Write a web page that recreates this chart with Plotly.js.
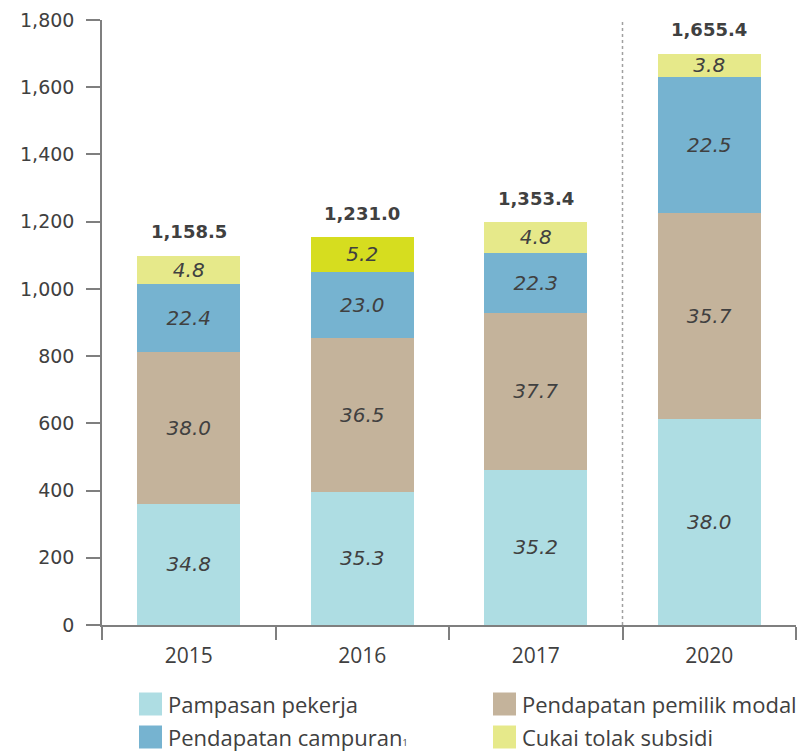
<!DOCTYPE html>
<html>
<head>
<meta charset="utf-8">
<script src="https://cdn.plot.ly/plotly-3.0.1.min.js"></script>
<style>
  body { margin: 0; background: #fff; }
  #chart { width: 806px; height: 751px; }
</style>
</head>
<body>
<div id="chart"></div>
<script>
// years on the x axis
var years = ['2015', '2016', '2017', '2020'];

// stacked segment heights as drawn
var pampasan = [361, 396, 462, 614];
var pemilikModal = [450, 459, 467, 611];
var campuran = [203, 196, 178, 405];
var cukai = [84, 103, 92, 70];

// share labels printed inside the segments (%)
var pampasanPct = ['34.8', '35.3', '35.2', '38.0'];
var pemilikModalPct = ['38.0', '36.5', '37.7', '35.7'];
var campuranPct = ['22.4', '23.0', '22.3', '22.5'];
var cukaiPct = ['4.8', '5.2', '4.8', '3.8'];

// totals above the bars
var totals = ['1,158.5', '1,231.0', '1,353.4', '1,655.4'];

var seriesNames = ['Pampasan pekerja', 'Pendapatan pemilik modal',
  'Pendapatan campuran<span style="font-size:9px">1</span>', 'Cukai tolak subsidi'];
var seriesColors = ['#aedde3', '#c4b39b', '#76b3d0', '#e6e98a'];
var cukaiColors = ['#e6e98a', '#d6dd1f', '#e6e98a', '#e6e98a'];

var W = 806, H = 751;
var margin = { l: 102, r: 10, t: 20, b: 126 };
var plotW = W - margin.l - margin.r;
var plotH = H - margin.t - margin.b;
var pxX = function(px) { return (px - margin.l) / plotW };
var pxY = function(py) { return (H - margin.b - py) / plotH };

var textFont = { family: 'DejaVu Sans', size: 20, color: '#404040', style: 'italic' };

function barTrace(values, labels, name, color) {
  return {
    x: years,
    y: values,
    type: 'bar',
    name: name,
    text: labels,
    textposition: 'inside',
    insidetextanchor: 'middle',
    textangle: 0,
    constraintext: 'none',
    textfont: textFont,
    marker: { color: color, line: { width: 0 } },
    hoverinfo: 'x+y+name',
    showlegend: false
  };
}

var data = [
  barTrace(pampasan, pampasanPct, seriesNames[0], seriesColors[0]),
  barTrace(pemilikModal, pemilikModalPct, seriesNames[1], seriesColors[1]),
  barTrace(campuran, campuranPct, seriesNames[2], seriesColors[2]),
  barTrace(cukai, cukaiPct, seriesNames[3], cukaiColors)
];

var stackTops = years.map((y, i) => pampasan[i] + pemilikModal[i] + campuran[i] + cukai[i]);

// category axis: annotations take the category index
var annotations = years.map((y, i) => ({
  x: i,
  y: stackTops[i],
  xref: 'x',
  yref: 'y',
  text: totals[i],
  showarrow: false,
  yanchor: 'middle',
  yshift: 24,
  font: { family: 'DejaVu Sans', size: 18, color: '#404040', weight: 700 }
}));

var shapes = [
  {
    type: 'line',
    xref: 'x', yref: 'paper',
    x0: 2.5, x1: 2.5, y0: 0, y1: 1,
    line: { color: '#a0a0a0', width: 1.5, dash: 'dot' }
  }
];

// legend drawn by hand, two columns, big square swatches
var legendCols = [139, 493];
var legendRows = [704, 737];
var sw = 23;
seriesNames.forEach((name, i) => {
  var cx = legendCols[i % 2];
  var cy = legendRows[Math.floor(i / 2)];
  shapes.push({
    type: 'rect',
    xref: 'paper', yref: 'paper',
    x0: pxX(cx), x1: pxX(cx + sw),
    y0: pxY(cy + sw / 2), y1: pxY(cy - sw / 2),
    fillcolor: seriesColors[i],
    line: { width: 0 }
  });
  annotations.push({
    xref: 'paper', yref: 'paper',
    x: pxX(cx + sw + 4),
    y: pxY(cy),
    xanchor: 'left',
    yanchor: 'middle',
    text: name,
    showarrow: false,
    font: { family: 'Open Sans', size: 22, color: '#404040' }
  });
});

var axisColor = '#7f7f7f';

var layout = {
  width: W,
  height: H,
  margin: margin,
  paper_bgcolor: '#ffffff',
  plot_bgcolor: '#ffffff',
  barmode: 'stack',
  bargap: 0.405,
  showlegend: false,
  xaxis: {
    type: 'category',
    range: [-0.5, 3.5],
    tickson: 'boundaries',
    ticks: 'outside',
    ticklen: 13,
    tickwidth: 1.5,
    tickcolor: axisColor,
    showline: true,
    linecolor: axisColor,
    linewidth: 1.5,
    showgrid: false,
    ticklabelstandoff: 11,
    tickfont: { family: 'Open Sans', size: 21, color: '#404040' }
  },
  yaxis: {
    range: [0, 1800],
    tickvals: [0, 200, 400, 600, 800, 1000, 1200, 1400, 1600, 1800],
    tickformat: ',',
    ticks: 'outside',
    ticklen: 14,
    tickwidth: 1.5,
    tickcolor: axisColor,
    showline: true,
    linecolor: axisColor,
    linewidth: 1.5,
    showgrid: false,
    zeroline: false,
    ticklabelstandoff: 8,
    tickfont: { family: 'DejaVu Sans', size: 19, color: '#404040' }
  },
  annotations: annotations,
  shapes: shapes
};

Plotly.newPlot('chart', data, layout, { displayModeBar: false, responsive: false });
</script>
</body>
</html>
